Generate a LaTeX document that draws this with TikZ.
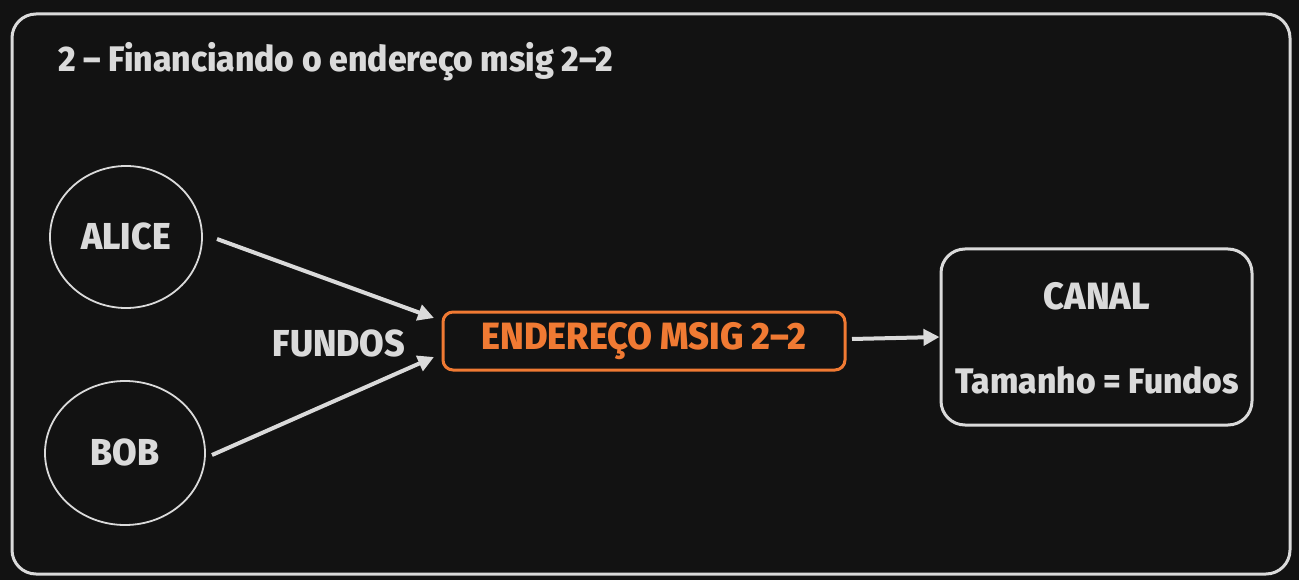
\documentclass[tikz,border=0pt]{standalone}
\usepackage{fontspec}
\setmainfont{Fira Sans}[BoldFont={Fira Sans ExtraBold}, FakeStretch=0.95]
\usetikzlibrary{arrows.meta}
\definecolor{bg}{HTML}{121212}
\definecolor{fg}{HTML}{DADADA}
\definecolor{org}{HTML}{F07A33}
\tikzset{
  frame/.style={draw=fg, line width=3pt, rounded corners=24pt},
  lbl/.style={text=fg, font=\fontsize{35.5}{40}\selectfont\bfseries, inner sep=0pt},
  big/.style={lbl, font=\fontsize{37.5}{40}\selectfont\bfseries},
  msig/.style={draw=org, line width=3pt, rounded corners=10pt, minimum width=402pt, minimum height=58pt, text=org, font=\fontsize{38}{40}\selectfont\bfseries},
  canal/.style={draw=fg, line width=3pt, rounded corners=24pt, minimum width=311pt, minimum height=176pt},
  conn/.style={draw=fg, line width=4pt, -{Triangle[length=16pt,width=16pt]}}
}
\begin{document}
\begin{tikzpicture}[x=1pt,y=-1pt]
\fill[bg] (0,0) rectangle (1299,580);
\useasboundingbox (0,0) rectangle (1299,580);
\draw[frame] (12,14) rectangle (1290,574);
\node[lbl, anchor=base west] (title) at (58,72) {2 – Financiando o endereço msig 2–2};
\draw[draw=fg, line width=1.8pt] (126,237) ellipse [x radius=76, y radius=71];
\draw[draw=fg, line width=1.8pt] (125,453) ellipse [x radius=80, y radius=72];
\node[big] (alice) at (126,236) {ALICE};
\node[big] (bob) at (125,452) {BOB};
\coordinate (a1) at (217,239);
\coordinate (b1) at (212,455);
\node[big] (fundos) at (339,343) {FUNDOS};
\node[msig] (msig) at (644,341) {ENDEREÇO MSIG 2–2};
\coordinate (a2) at (434,318);
\coordinate (b2) at (434,357);
\draw[conn] (a1) -- (a2);
\draw[conn] (b1) -- (b2);
\node[canal] (canal) at (1096.5,337) {};
\node[lbl, font=\fontsize{38}{40}\selectfont\bfseries] (canalt) at (1097,296) {CANAL};
\node[lbl] (tam) at (1097,380) {Tamanho = Fundos};
\coordinate (m1) at (852,339);
\draw[conn] (m1) -- (canal.west);
\end{tikzpicture}
\end{document}
